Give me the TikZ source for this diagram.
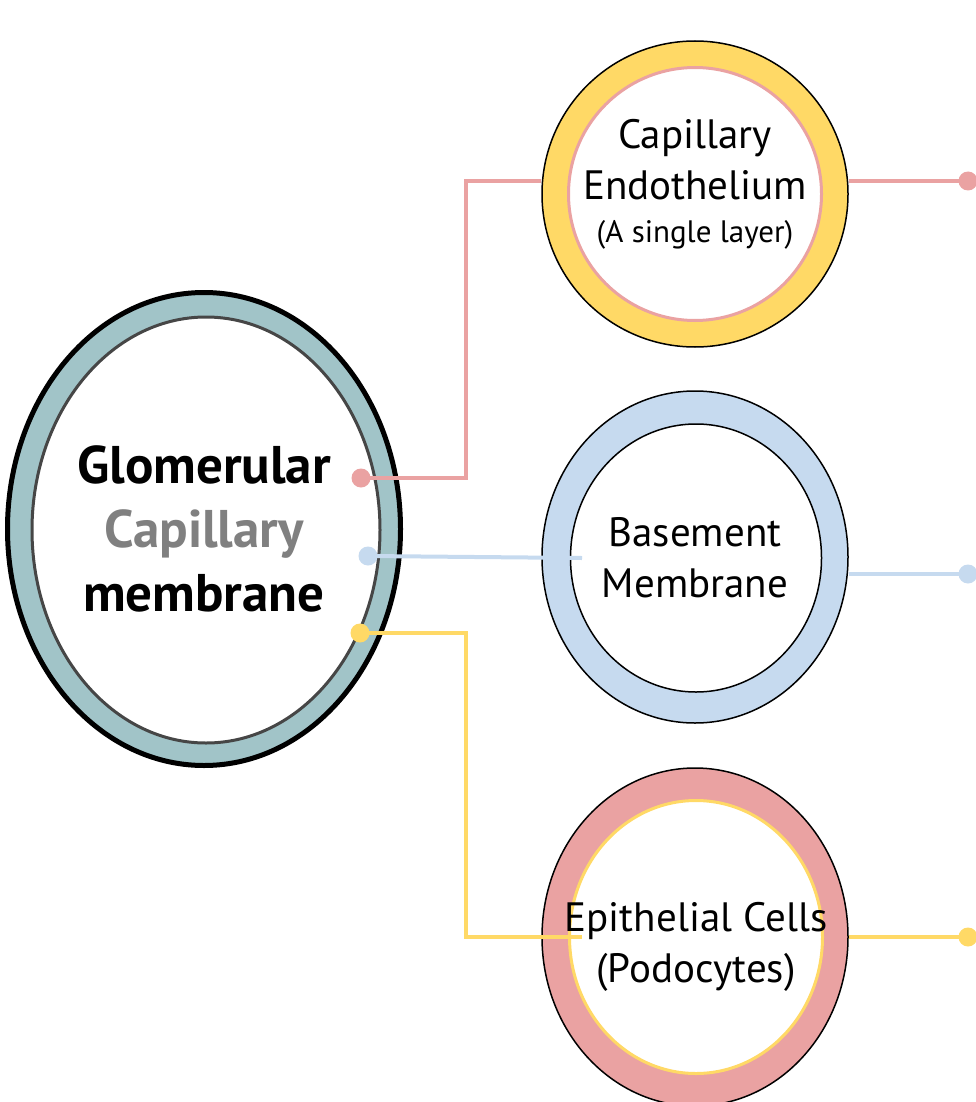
\documentclass[tikz,border=0pt]{standalone}
\usepackage{fontspec}
\setmainfont{PT Sans}
\usetikzlibrary{shapes.geometric}

\definecolor{ringteal}{RGB}{161,196,200}
\definecolor{ringyellow}{RGB}{255,217,102}
\definecolor{ringpink}{RGB}{234,162,162}
\definecolor{ringblue}{RGB}{198,218,239}
\definecolor{capgray}{RGB}{128,128,128}
\definecolor{linegray}{RGB}{70,70,70}

\tikzset{
  outerring/.style={ellipse, draw=black, line width=1.5pt, inner sep=0pt},
  innerring/.style={ellipse, fill=white, line width=3pt, inner sep=0pt},
  link/.style={line width=4pt},
  dot/.style={circle, inner sep=0pt, minimum size=19pt},
  layertext/.style={align=center, font=\fontsize{41}{51}\selectfont},
  notetext/.style={font=\fontsize{31}{36}\selectfont},
  headtext/.style={align=center, font=\fontsize{53}{64}\selectfont\bfseries}
}

\begin{document}
\begin{tikzpicture}[x=1pt,y=-1pt]
    \useasboundingbox (0,0) rectangle (976,1102);
    % glomerular membrane
    \node[ellipse, draw=black, line width=5pt, fill=ringteal, inner sep=0pt,
          minimum width=393pt, minimum height=473pt] (glom) at (204,529) {};
    \node[ellipse, draw=linegray, line width=3pt, fill=white, inner sep=0pt,
          minimum width=348pt, minimum height=426pt] (glomin) at (206,530) {};
    % three layers
    \node[outerring, fill=ringyellow, minimum width=306pt, minimum height=306pt] (endo) at (695,194) {};
    \node[innerring, draw=ringpink, minimum width=253pt, minimum height=253pt] (endoin) at (695,194) {};
    \node[outerring, fill=ringblue, minimum width=306pt, minimum height=332pt] (base) at (695,557) {};
    \node[innerring, draw=black, line width=1.5pt, minimum width=251pt, minimum height=268pt] (basein) at (696,558) {};
    \node[outerring, fill=ringpink, minimum width=306pt, minimum height=338pt] (epi) at (695,937) {};
    \node[innerring, draw=ringyellow, minimum width=253pt, minimum height=273pt] (epiin) at (696,937) {};
    % connector ends
    \coordinate (pbend) at (466,478);
    \coordinate (endoL) at (541,181);
    \coordinate (endoR) at (849,181);
    \coordinate (baseL) at (582,558);
    \coordinate (baseR) at (849,574);
    \coordinate (ybend) at (466,633);
    \coordinate (epiL) at (582,937);
    \coordinate (epiR) at (849,937);
    % dots
    \node[dot, fill=ringpink] (pdotL) at (361,478) {};
    \node[dot, fill=ringblue] (bdotL) at (368,556) {};
    \node[dot, fill=ringyellow] (ydotL) at (360,633) {};
    \node[dot, fill=ringpink] (pdotR) at (968,181) {};
    \node[dot, fill=ringblue] (bdotR) at (968,574) {};
    \node[dot, fill=ringyellow] (ydotR) at (968,937) {};
    % links
    \draw[link, ringpink] (pdotL.center) -- (pbend) |- (endoL);
    \draw[link, ringpink] (endoR) -- (pdotR.center);
    \draw[link, ringblue] (bdotL.center) -- (baseL);
    \draw[link, ringblue] (baseR) -- (bdotR.center);
    \draw[link, ringyellow] (ydotL.center) -- (ybend) |- (epiL);
    \draw[link, ringyellow] (epiR) -- (ydotR.center);
    % texts
    \node[headtext] (glomtext) at (204,529) {Glomerular\\{\color{capgray}Capillary}\\membrane};
    \node[layertext] (endotext) at (695,160) {Capillary\\Endothelium};
    \node[notetext, anchor=base] (endonote) at (695,242) {(A single layer)};
    \node[layertext] (basetext) at (695,558) {Basement\\Membrane};
    \node[layertext] (epitext) at (696,947) {Epithelial Cells\\(Podocytes)};
\end{tikzpicture}
\end{document}
